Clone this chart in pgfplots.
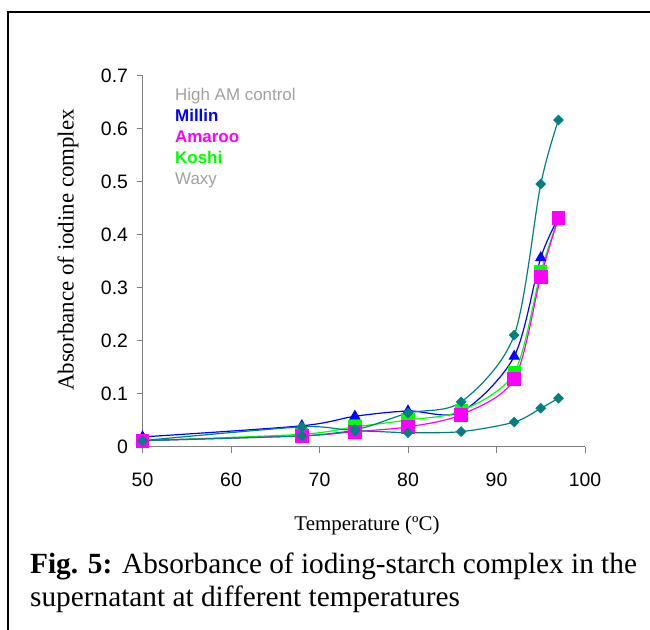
\documentclass[border=0pt]{standalone}
\usepackage{fontspec}
\setmainfont{Liberation Serif}
\newfontfamily\arial{Liberation Sans}
\usepackage{pgfplots}
\pgfplotsset{compat=1.18}
\definecolor{tealc}{RGB}{0,128,128}
\definecolor{legray}{RGB}{160,160,160}
\definecolor{axgray}{RGB}{128,128,128}
\definecolor{magc}{RGB}{255,0,255}
\definecolor{grnc}{RGB}{0,255,0}
\definecolor{bluc}{RGB}{0,0,255}
\begin{document}
\begin{tikzpicture}[x=1bp,y=1bp]
\useasboundingbox (0,0) rectangle (650,630);
\draw[line width=1.3bp] (8,0) -- (8,618) -- (650,618);
\begin{axis}[
  at={(142.5bp,183bp)}, anchor=south west,
  scale only axis, width=442.5bp, height=371bp,
  xmin=50, xmax=100, ymin=0, ymax=0.7,
  axis lines=left, axis line style={-, axgray, line width=1bp},
  xtick={50,60,...,100}, ytick={0,0.1,...,0.7},
  yticklabels={0,0.1,0.2,0.3,0.4,0.5,0.6,0.7},
  tick align=outside, major tick length=6bp,
  tick style={axgray, line width=1bp},
  ticklabel style={font=\arial\fontsize{19.5}{21}\selectfont},
  xticklabel style={yshift=-16bp},
  yticklabel style={xshift=-5bp},
  /pgf/number format/assume math mode=true,
  clip=false,
  every axis plot/.append style={smooth, tension=0.5, line width=1.2bp},
]
\addplot[bluc, mark=triangle*, mark size=5.5bp, mark options={draw=none}] coordinates {
(50,0.019) (68,0.040) (74,0.058) (80,0.068) (86,0.066) (92,0.171) (95,0.357) (97,0.432)};
\addplot[grnc, mark=square*, mark size=6bp, mark options={draw=none}] coordinates {
(50,0.012) (68,0.024) (74,0.038) (80,0.051) (86,0.068) (92,0.140) (95,0.330) (97,0.432)};
\addplot[magc, mark=square*, mark size=6.3bp, mark options={draw=none}] coordinates {
(50,0.012) (68,0.021) (74,0.029) (80,0.038) (86,0.061) (92,0.128) (95,0.321) (97,0.432)};
\addplot[tealc, mark=square*, mark size=3.2bp, mark options={rotate=45, draw=none}] coordinates {
(50,0.012) (68,0.038) (74,0.033) (80,0.064) (86,0.085) (92,0.211) (95,0.496) (97,0.617)};
\addplot[tealc, mark=square*, mark size=3.2bp, mark options={rotate=45, draw=none}] coordinates {
(50,0.012) (68,0.021) (74,0.030) (80,0.027) (86,0.029) (92,0.047) (95,0.073) (97,0.092)};
\end{axis}
\begin{scope}[every node/.style={anchor=base west, inner sep=0pt, font=\arial\fontsize{17}{19}\selectfont}]
\node[text=legray] at (175,529.3) {High AM control};
\node[text=bluc] at (175,508.3) {\bfseries Millin};
\node[text=magc] at (175,487.5) {\bfseries Amaroo};
\node[text=grnc] at (175,466.5) {\bfseries Koshi};
\node[text=legray] at (175,445.5) {Waxy};
\end{scope}
\node[rotate=90, inner sep=0pt, font=\fontsize{23}{25}\selectfont] at (68,380) {Absorbance of iodine complex};
\node[inner sep=0pt, font=\fontsize{21}{23}\selectfont] at (367,105) {Temperature (ºC)};
\node[anchor=base west, inner sep=0pt, font=\fontsize{29.4}{33}\selectfont] at (30,56) {\textbf{Fig. 5:} Absorbance of ioding-starch complex in the};
\node[anchor=base west, inner sep=0pt, font=\fontsize{29.4}{33}\selectfont] at (30,23) {supernatant at different temperatures};
\end{tikzpicture}
\end{document}
